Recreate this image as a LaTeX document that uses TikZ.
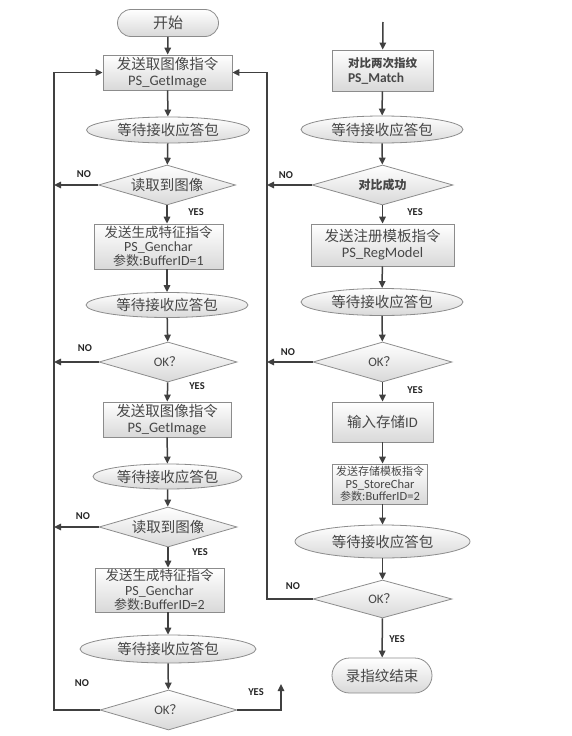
\documentclass[tikz,border=0pt]{standalone}
\usepackage{fontspec}
\setmainfont{Carlito}
\newfontfamily\cjk{Noto Sans CJK SC}
\usetikzlibrary{shapes.geometric,shapes.misc,arrows.meta}
\begin{document}
\begin{tikzpicture}[x=1pt,y=-1pt,
  base/.style={draw=black!45, line width=0.8pt, top color=white, bottom color=black!15,
    text=black!72, inner sep=1pt, align=center, font=\fontsize{14.5}{16}\selectfont},
  term/.style={base, rounded rectangle},
  proc/.style={base, rectangle},
  wait/.style={base, ellipse},
  dec/.style={base, diamond, aspect=3.4, inner sep=0pt},
  flow/.style={draw=black!75, line width=1.5pt, -{Triangle[length=7pt,width=6.5pt]}},
  lbl/.style={font=\fontsize{10.5}{12}\selectfont\bfseries, text=black!85, inner sep=0pt},
  cn/.style={font=\cjk\fontsize{14.5}{16}\selectfont},
]
\useasboundingbox (0,0) rectangle (572,736);
\fill[white] (0,0) rectangle (572,736);

% ---------- left column ----------
\node[term, minimum width=103pt, minimum height=27pt, cn] (start) at (168,23) {\fontsize{15}{17}\selectfont 开始};
\node[proc, minimum width=129pt, minimum height=35pt] (b1) at (167.5,72.5)
  {{\cjk 发送取图像指令}\\PS\_GetImage};
\node[wait, minimum width=163pt, minimum height=26pt, cn] (e1) at (168,130) {等待接收应答包};
\node[dec, minimum width=137pt, minimum height=40pt, cn] (d1) at (167,185) {读取到图像};
\node[proc, minimum width=129pt, minimum height=45pt, font=\fontsize{14}{14.3}\selectfont] (b2) at (158.5,246.5)
  {{\cjk\fontsize{13.5}{14}\selectfont 发送生成特征指令}\\PS\_Genchar\\{\cjk\fontsize{13}{14}\selectfont 参数}:BufferID=1};
\node[wait, minimum width=162pt, minimum height=25pt, cn] (e2) at (167,305) {等待接收应答包};
\node[dec, minimum width=138pt, minimum height=40pt, font=\fontsize{13}{14}\selectfont] (d2) at (168,362) {OK{\cjk ？}};
\node[proc, minimum width=128pt, minimum height=35pt] (b3) at (167,419.5)
  {{\cjk 发送取图像指令}\\PS\_GetImage};
\node[wait, minimum width=149pt, minimum height=25pt, cn] (e3) at (167.5,476.5) {等待接收应答包};
\node[dec, minimum width=138pt, minimum height=40pt, cn] (d3) at (168,527) {读取到图像};
\node[proc, minimum width=129pt, minimum height=44pt, font=\fontsize{14}{14.3}\selectfont] (b4) at (159.5,590)
  {{\cjk\fontsize{13.5}{14}\selectfont 发送生成特征指令}\\PS\_Genchar\\{\cjk\fontsize{13}{14}\selectfont 参数}:BufferID=2};
\node[wait, minimum width=176pt, minimum height=28pt, cn] (e4) at (168,649) {等待接收应答包};
\node[dec, minimum width=137pt, minimum height=40pt, font=\fontsize{13}{14}\selectfont] (d4) at (168.5,710) {OK{\cjk ？}};

% ---------- right column ----------
\coordinate (rtop) at (383,22);
\node[proc, minimum width=101pt, minimum height=41pt, align=left, font=\fontsize{13.5}{15}\selectfont\bfseries] (r1) at (382.5,70.5)
  {{\cjk\bfseries\fontsize{11.5}{14}\selectfont 对比两次指纹}\\PS\_Match};
\node[wait, minimum width=162pt, minimum height=27pt, cn] (re1) at (382,129.5) {等待接收应答包};
\node[dec, minimum width=141pt, minimum height=40pt] (rd1) at (382.5,185) {\cjk\bfseries\fontsize{12}{14}\selectfont 对比成功};
\node[proc, minimum width=143pt, minimum height=42pt] (r2) at (382.5,245)
  {{\cjk 发送注册模板指令}\\PS\_RegModel};
\node[wait, minimum width=162pt, minimum height=27pt, cn] (re2) at (382,302) {等待接收应答包};
\node[dec, minimum width=139pt, minimum height=40pt, font=\fontsize{13}{14}\selectfont] (rd2) at (382.5,362) {OK{\cjk ？}};
\node[proc, minimum width=101pt, minimum height=40pt] (r3) at (382.5,422) {{\cjk 输入存储}ID};
\node[proc, minimum width=95pt, minimum height=40pt, font=\fontsize{12.5}{12.8}\selectfont] (r4) at (380,484)
  {{\cjk\fontsize{11}{12}\selectfont 发送存储模板指令}\\PS\_StoreChar\\{\cjk\fontsize{11}{12}\selectfont 参数}:BufferID=2};
\node[wait, minimum width=175pt, minimum height=33pt, cn] (re3) at (382.5,541.5) {等待接收应答包};
\node[dec, minimum width=139pt, minimum height=38pt, aspect=3.66, font=\fontsize{13}{14}\selectfont] (rd3) at (382.5,599) {OK{\cjk ？}};
\node[term, minimum width=102pt, minimum height=35pt, cn] (rend) at (382,675.5) {录指纹结束};

% ---------- helper coordinates ----------
\coordinate (lx1) at (54,185);
\coordinate (lx2) at (54,362);
\coordinate (lx3) at (54,527);
\coordinate (lbot) at (54,710);
\coordinate (ltop) at (54,72.5);
\coordinate (rx1) at (267,185);
\coordinate (rx2) at (267,362);
\coordinate (rbot) at (267,599);
\coordinate (rtopl) at (267,72.5);
\coordinate (upc) at (281,710);
\coordinate (upe) at (281,684);

% ---------- left flow ----------
\draw[flow] (start) -- (b1);
\draw[flow] (b1) -- (e1);
\draw[flow] (e1) -- (d1);
\draw[flow] (d1.south) -- (d1.south |- b2.north);
\draw[flow] (e2.north |- b2.south) -- (e2.north);
\draw[flow] (e2) -- (d2);
\draw[flow] (d2) -- (b3);
\draw[flow] (b3) -- (e3);
\draw[flow] (e3) -- (d3);
\draw[flow] (d3.south) -- (d3.south |- b4.north);
\draw[flow] (e4.north |- b4.south) -- (e4.north);
\draw[flow] (e4) -- (d4);

\draw[flow] (d1.west) -- (lx1);
\draw[flow] (d2.west) -- (lx2);
\draw[flow] (d3.west) -- (lx3);
\draw[flow] (d4.west) -- (lbot) -- (ltop) -- (b1.west);
\draw[flow] (d4.east) -- (upc) -- (upe);

% ---------- right flow ----------
\draw[flow] (rtop) -- (r1);
\draw[flow] (r1) -- (re1);
\draw[flow] (re1) -- (rd1);
\draw[flow] (rd1) -- (r2);
\draw[flow] (r2) -- (re2);
\draw[flow] (re2) -- (rd2);
\draw[flow] (rd2) -- (r3);
\draw[flow] (r3) -- (r4.north -| r3.south);
\draw[flow] (r4.south -| r3.south) -- (re3);
\draw[flow] (re3) -- (rd3);
\draw[flow] (rd3) -- (rend);

\draw[flow] (rd1.west) -- (rx1);
\draw[flow] (rd2.west) -- (rx2);
\draw[flow] (rd3.west) -- (rbot) -- (rtopl) -- (b1.east);

% ---------- labels ----------
\node[lbl] (n1) at (84,174) {NO};
\node[lbl] (n2) at (85,348) {NO};
\node[lbl] (n3) at (83,516) {NO};
\node[lbl] (n4) at (82,683) {NO};
\node[lbl] (n5) at (286,175) {NO};
\node[lbl] (n6) at (288,352) {NO};
\node[lbl] (n7) at (293,586) {NO};
\node[lbl] (y1) at (196,212) {YES};
\node[lbl] (y2) at (197,386) {YES};
\node[lbl] (y3) at (200,552) {YES};
\node[lbl] (y4) at (256,692) {YES};
\node[lbl] (y5) at (415,212) {YES};
\node[lbl] (y6) at (415,390) {YES};
\node[lbl] (y7) at (397,639) {YES};
\end{tikzpicture}
\end{document}
